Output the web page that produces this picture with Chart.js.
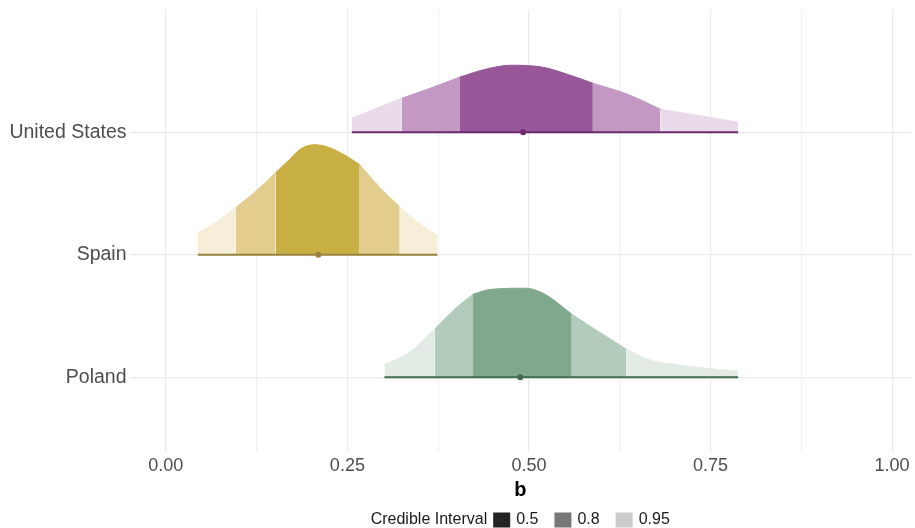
<!DOCTYPE html>
<html>
<head>
<meta charset="utf-8">
<script src="https://cdn.jsdelivr.net/npm/chart.js@4/dist/chart.umd.min.js"></script>
<style>
  html, body { margin: 0; padding: 0; background: #fff; }
  .grafico { width: 915px; height: 528px; }
</style>
</head>
<body>
<div class="grafico"><canvas id="myChart"></canvas></div>
<script>
// rows on the y axis: Poland = 1, Spain = 2, United States = 3
const paises = ["Poland", "Spain", "United States"]

// density outlines: b value and height above the row line (in row units)
const usX = [0.256, 0.290, 0.325, 0.364, 0.404, 0.440, 0.475, 0.519, 0.553, 0.588, 0.636, 0.681, 0.732, 0.788]
const usH = [0.114, 0.196, 0.278, 0.359, 0.449, 0.514, 0.547, 0.531, 0.473, 0.400, 0.310, 0.188, 0.139, 0.082]
const spainX = [0.044, 0.070, 0.096, 0.123, 0.151, 0.170, 0.186, 0.204, 0.222, 0.248, 0.267, 0.293, 0.322, 0.348, 0.374]
const spainH = [0.180, 0.269, 0.384, 0.514, 0.669, 0.776, 0.865, 0.898, 0.882, 0.808, 0.735, 0.560, 0.392, 0.261, 0.155]
const polandX = [0.301, 0.334, 0.370, 0.399, 0.423, 0.448, 0.495, 0.522, 0.559, 0.595, 0.634, 0.667, 0.700, 0.745, 0.788]
const polandH = [0.106, 0.196, 0.392, 0.563, 0.678, 0.718, 0.727, 0.678, 0.514, 0.376, 0.229, 0.139, 0.106, 0.073, 0.049]

// interval limits: [lo 0.8, lo 0.5, hi 0.5, hi 0.8]
const usInt = [0.325, 0.404, 0.588, 0.681]
const spainInt = [0.096, 0.151, 0.267, 0.322]
const polandInt = [0.370, 0.423, 0.559, 0.634]

// medians (point on the line)
const usMed = 0.492
const spainMed = 0.210
const polandMed = 0.488

const ticksX = [0, 0.125, 0.25, 0.375, 0.5, 0.625, 0.75, 0.875, 1]
const etiquetasX = ["0.00", "", "0.25", "", "0.50", "", "0.75", "", "1.00"]

const leyendaTitulo = "Credible Interval"
const leyendaNiveles = ["0.5", "0.8", "0.95"]
const leyendaColores = ["#232323", "#777777", "#cccccc"]

const fuente = "'Liberation Sans', Arial, sans-serif"

function capas(xs, hs, fila, lim, colores, linea, mediana) {
    const bordes = [xs[0], lim[0], lim[1], lim[2], lim[3], xs[xs.length - 1]]
    const tonos = [colores[2], colores[1], colores[0], colores[1], colores[2]]
    let datasets = []
    for (let i = 0; i < 5; i++) {
        let data = []
        xs.forEach((x, j) => {
            if (x >= bordes[i] && x <= bordes[i + 1]) data.push({ x: x, y: fila + hs[j] })
        })
        datasets.push({
            data,
            showLine: true,
            pointRadius: 0,
            borderWidth: 1,
            borderColor: tonos[i],
            backgroundColor: tonos[i],
            fill: { value: fila },
            cubicInterpolationMode: "monotone",
            order: 2
        })
    }
    datasets.push({
        data: [{ x: xs[0], y: fila }, { x: xs[xs.length - 1], y: fila }],
        showLine: true,
        pointRadius: 0,
        borderWidth: 2.2,
        borderColor: linea,
        fill: false,
        order: 1
    })
    datasets.push({
        data: [{ x: mediana, y: fila }],
        showLine: false,
        pointRadius: 3,
        pointBackgroundColor: linea,
        pointBorderWidth: 0,
        order: 0
    })
    return datasets
}

const datasets = [
    ...capas(usX, usH, 3, usInt, ["#985799", "#c399c4", "#e9daea"], "#6b2a6e", usMed),
    ...capas(spainX, spainH, 2, spainInt, ["#c8af44", "#e2cd8f", "#f6eed8"], "#97833e", spainMed),
    ...capas(polandX, polandH, 1, polandInt, ["#80a88c", "#b2cbba", "#e2ece5"], "#3f6e4d", polandMed)
]

const leyenda = {
    id: "leyenda",
    afterDraw(chart) {
        const ctx = chart.ctx
        ctx.save()
        ctx.font = "16px " + fuente
        ctx.textBaseline = "middle"
        ctx.fillStyle = "#1a1a1a"
        const y = 520
        let total = ctx.measureText(leyendaTitulo).width + 6
        leyendaNiveles.forEach((t, i) => {
            total += 17 + 6 + ctx.measureText(t).width + (i < 2 ? 16 : 0)
        })
        let x = (chart.chartArea.left + chart.chartArea.right) / 2 - total / 2
        ctx.fillText(leyendaTitulo, x, y)
        x += ctx.measureText(leyendaTitulo).width + 6
        leyendaNiveles.forEach((t, i) => {
            ctx.fillStyle = leyendaColores[i]
            ctx.fillRect(x, y - 7.5, 17, 15)
            x += 17 + 6
            ctx.fillStyle = "#1a1a1a"
            ctx.fillText(t, x, y)
            x += ctx.measureText(t).width + 16
        })
        ctx.restore()
    }
}

const myChart = document.querySelector("#myChart")
new Chart(myChart, {
    type: "scatter",
    data: { datasets },
    plugins: [leyenda],
    options: {
        responsive: true,
        maintainAspectRatio: false,
        animation: false,
        layout: { padding: { top: 9.5, right: 0, left: 0, bottom: 26 } },
        plugins: { legend: { display: false }, tooltip: { enabled: false } },
        scales: {
            x: {
                type: "linear",
                min: -0.05,
                max: 1.026,
                afterBuildTicks: (scale) => { scale.ticks = ticksX.map(v => ({ value: v })) },
                afterFit: (scale) => {
                    scale.height = 50
                    scale.paddingLeft = 0
                    scale.paddingRight = 0
                },
                border: { display: false },
                grid: {
                    drawTicks: false,
                    color: (c) => (c.index % 2 === 0 ? "#ebebeb" : "#f1f1f1"),
                    lineWidth: 1.2
                },
                ticks: {
                    autoSkip: false,
                    maxRotation: 0,
                    padding: 3,
                    color: "#4d4d4d",
                    font: { family: fuente, size: 18 },
                    callback: (v, i) => etiquetasX[i]
                },
                title: {
                    display: true,
                    text: "b",
                    color: "#000",
                    font: { family: fuente, size: 20, weight: "bold" },
                    padding: { top: 0, bottom: 0 }
                }
            },
            y: {
                type: "linear",
                min: 0.390,
                max: 4.002,
                afterBuildTicks: (scale) => { scale.ticks = [1, 2, 3].map(v => ({ value: v })) },
                afterFit: (scale) => {
                    scale.width = 129.5
                    scale.paddingTop = 0
                    scale.paddingBottom = 0
                },
                border: { display: false },
                grid: { drawTicks: false, color: "#ebebeb", lineWidth: 1.2 },
                ticks: {
                    padding: 3,
                    color: "#4d4d4d",
                    font: { family: fuente, size: 19.5 },
                    callback: (v) => paises[v - 1]
                }
            }
        }
    }
})
</script>
</body>
</html>
